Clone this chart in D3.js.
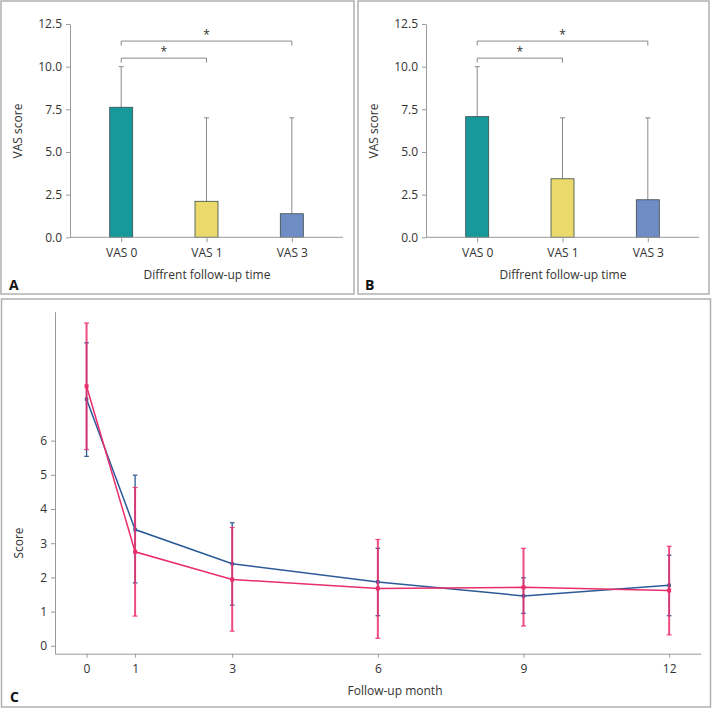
<!DOCTYPE html>
<html>
<head>
<meta charset="utf-8">
<script src="https://cdn.jsdelivr.net/npm/d3@7"></script>
<style>
  body { margin: 0; background: #fff; }
  text { font-family: "Open Sans", "Noto Sans", sans-serif; fill: #333; }
  .axis path, .axis line { stroke: #9a9a9a; }
  .axis text { font-size: 12px; fill: #333; }
</style>
</head>
<body>
<div id="chart"></div>
<script>
// Data
const groups = ["VAS 0", "VAS 1", "VAS 3"];
const meansA = [7.62, 2.11, 1.38];
const upperA = [10, 7, 7];
const meansB = [7.07, 3.43, 2.2];
const upperB = [10, 7, 7];
// significance brackets: [from, to, height]
const bracketsA = [[0, 1, 10.5], [0, 2, 11.5]];
const bracketsB = [[0, 1, 10.5], [0, 2, 11.5]];
const vasTicks = [0, 2.5, 5, 7.5, 10, 12.5];

const months = [0, 1, 3, 6, 9, 12];
const blueMean = [7.21, 3.40, 2.40, 1.87, 1.46, 1.77];
const blueLow  = [5.54, 1.84, 1.19, 0.88, 0.95, 0.88];
const blueHigh = [8.86, 4.99, 3.60, 2.85, 1.99, 2.65];
const pinkMean = [7.59, 2.75, 1.94, 1.68, 1.71, 1.62];
const pinkLow  = [5.74, 0.87, 0.43, 0.22, 0.58, 0.32];
const pinkHigh = [9.44, 4.63, 3.46, 3.11, 2.85, 2.91];
const scoreTicks = [0, 1, 2, 3, 4, 5, 6];

const barColors = ["#17989a", "#ecd96b", "#6f8dc5"];
const blue = "#2c5a98", pink = "#ea2d6c";

const svg = d3.select("#chart").append("svg")
  .attr("width", 713)
  .attr("height", 710);

// panel frames
const frames = [
  { x: 1, y: 1, w: 353, h: 293 },
  { x: 358, y: 1, w: 351, h: 293 },
  { x: 1.5, y: 299, w: 709, h: 408 }
];
svg.selectAll("rect.frame")
  .data(frames)
  .join("rect")
  .attr("class", "frame")
  .attr("x", d => d.x).attr("y", d => d.y)
  .attr("width", d => d.w).attr("height", d => d.h)
  .attr("fill", "none")
  .attr("stroke", "#b0b0b0")
  .attr("stroke-width", 1.5);

function barPanel(offsetX, means, upper, brackets, letter) {
  const g = svg.append("g").attr("transform", `translate(${offsetX},0)`);

  const x = d3.scalePoint().domain(groups).range([70, 343]).padding(0.6);
  const y = d3.scaleLinear().domain([0, 12.5]).range([237.3, 24]);
  const barW = 23;

  // error bars (upper only)
  g.selectAll("line.err")
    .data(groups)
    .join("line")
    .attr("class", "err")
    .attr("x1", d => x(d)).attr("x2", d => x(d))
    .attr("y1", (d, i) => y(means[i])).attr("y2", (d, i) => y(upper[i]))
    .attr("stroke", "#8a8a8a").attr("stroke-width", 1);
  g.selectAll("line.cap")
    .data(groups)
    .join("line")
    .attr("class", "cap")
    .attr("x1", d => x(d) - 2.5).attr("x2", d => x(d) + 2.5)
    .attr("y1", (d, i) => y(upper[i])).attr("y2", (d, i) => y(upper[i]))
    .attr("stroke", "#8a8a8a").attr("stroke-width", 1);

  g.selectAll("rect.bar")
    .data(groups)
    .join("rect")
    .attr("class", "bar")
    .attr("x", d => x(d) - barW / 2)
    .attr("width", barW)
    .attr("y", (d, i) => y(means[i]))
    .attr("height", (d, i) => y(0) - y(means[i]))
    .attr("fill", (d, i) => barColors[i])
    .attr("stroke", "#3a4a4a")
    .attr("stroke-width", 0.8);

  // significance brackets
  brackets.forEach(([a, b, h]) => {
    const x1 = x(groups[a]), x2 = x(groups[b]), yy = y(h);
    g.append("path")
      .attr("d", `M${x1},${yy + 4.5}V${yy}H${x2}V${yy + 4.5}`)
      .attr("fill", "none")
      .attr("stroke", "#8a8a8a")
      .attr("stroke-width", 1);
    g.append("text")
      .attr("x", (x1 + x2) / 2)
      .attr("y", yy - 2)
      .attr("text-anchor", "middle")
      .attr("font-size", 12)
      .text("*");
  });

  g.append("g")
    .attr("class", "axis")
    .attr("transform", "translate(70,0)")
    .call(d3.axisLeft(y).tickValues(vasTicks).tickFormat(d3.format(".1f")).tickSize(4).tickSizeOuter(0))
    .call(a => a.selectAll("text").attr("dx", "-1"));

  g.append("g")
    .attr("class", "axis")
    .attr("transform", `translate(0,${y(0)})`)
    .call(d3.axisBottom(x).tickSize(5).tickSizeOuter(0).tickPadding(6))
    .call(a => a.select(".domain").attr("d", `M70,0H343`));

  g.append("text")
    .attr("transform", "translate(22,131) rotate(-90)")
    .attr("text-anchor", "middle")
    .attr("font-size", 12)
    .text("VAS score");

  g.append("text")
    .attr("x", 207)
    .attr("y", 279)
    .attr("text-anchor", "middle")
    .attr("font-size", 12)
    .text("Diffrent follow-up time");

  g.append("text")
    .attr("x", 9)
    .attr("y", 290)
    .attr("font-size", 14)
    .attr("font-weight", "bold")
    .style("fill", "#111")
    .text(letter);
}

barPanel(0, meansA, upperA, bracketsA, "A");
barPanel(356, meansB, upperB, bracketsB, "B");

// Panel C
const gc = svg.append("g");
const xc = d3.scaleLinear().domain([-0.65, 12.65]).range([55, 700.7]);
const yc = d3.scaleLinear().domain([-0.23, 9.77]).range([653.7, 311.7]);

gc.append("g")
  .attr("class", "axis")
  .attr("transform", "translate(55,0)")
  .call(d3.axisLeft(yc).tickValues(scoreTicks).tickFormat(d3.format("d")).tickSize(4).tickSizeOuter(0).tickPadding(4));

gc.append("g")
  .attr("class", "axis")
  .attr("transform", "translate(0,653.7)")
  .call(d3.axisBottom(xc).tickValues(months).tickFormat(d3.format("d")).tickSize(4).tickSizeOuter(0).tickPadding(7));

function series(mean, low, high, color, errW, capW, lineW, markSize, opacity) {
  const pts = months.map((m, i) => ({ m, v: mean[i], lo: low[i], hi: high[i] }));
  const line = d3.line().x(d => xc(d.m)).y(d => yc(d.v));
  gc.append("path")
    .datum(pts)
    .attr("d", line)
    .attr("fill", "none")
    .attr("stroke", color)
    .attr("stroke-width", lineW);

  const eb = gc.append("g").attr("stroke", color).attr("stroke-opacity", opacity);
  eb.selectAll("line.v")
    .data(pts).join("line").attr("class", "v")
    .attr("x1", d => xc(d.m)).attr("x2", d => xc(d.m))
    .attr("y1", d => yc(d.lo)).attr("y2", d => yc(d.hi))
    .attr("stroke-width", errW);
  eb.selectAll("line.lo")
    .data(pts).join("line").attr("class", "lo")
    .attr("x1", d => xc(d.m) - capW).attr("x2", d => xc(d.m) + capW)
    .attr("y1", d => yc(d.lo)).attr("y2", d => yc(d.lo))
    .attr("stroke-width", 1.2);
  eb.selectAll("line.hi")
    .data(pts).join("line").attr("class", "hi")
    .attr("x1", d => xc(d.m) - capW).attr("x2", d => xc(d.m) + capW)
    .attr("y1", d => yc(d.hi)).attr("y2", d => yc(d.hi))
    .attr("stroke-width", 1.2);

  gc.selectAll(null)
    .data(pts).join("rect")
    .attr("x", d => xc(d.m) - markSize / 2)
    .attr("y", d => yc(d.v) - markSize / 2)
    .attr("width", markSize).attr("height", markSize)
    .attr("fill", color);
}

series(blueMean, blueLow, blueHigh, blue, 1.3, 2.3, 1.5, 3.5, 1);
series(pinkMean, pinkLow, pinkHigh, pink, 2, 2.5, 1.5, 4, 0.85);

gc.append("text")
  .attr("transform", "translate(23,543) rotate(-90)")
  .attr("text-anchor", "middle")
  .attr("font-size", 12)
  .text("Score");

gc.append("text")
  .attr("x", 395)
  .attr("y", 695)
  .attr("text-anchor", "middle")
  .attr("font-size", 12)
  .text("Follow-up month");

gc.append("text")
  .attr("x", 10)
  .attr("y", 702)
  .attr("font-size", 14)
  .attr("font-weight", "bold")
  .style("fill", "#111")
  .text("C");
</script>
</body>
</html>
